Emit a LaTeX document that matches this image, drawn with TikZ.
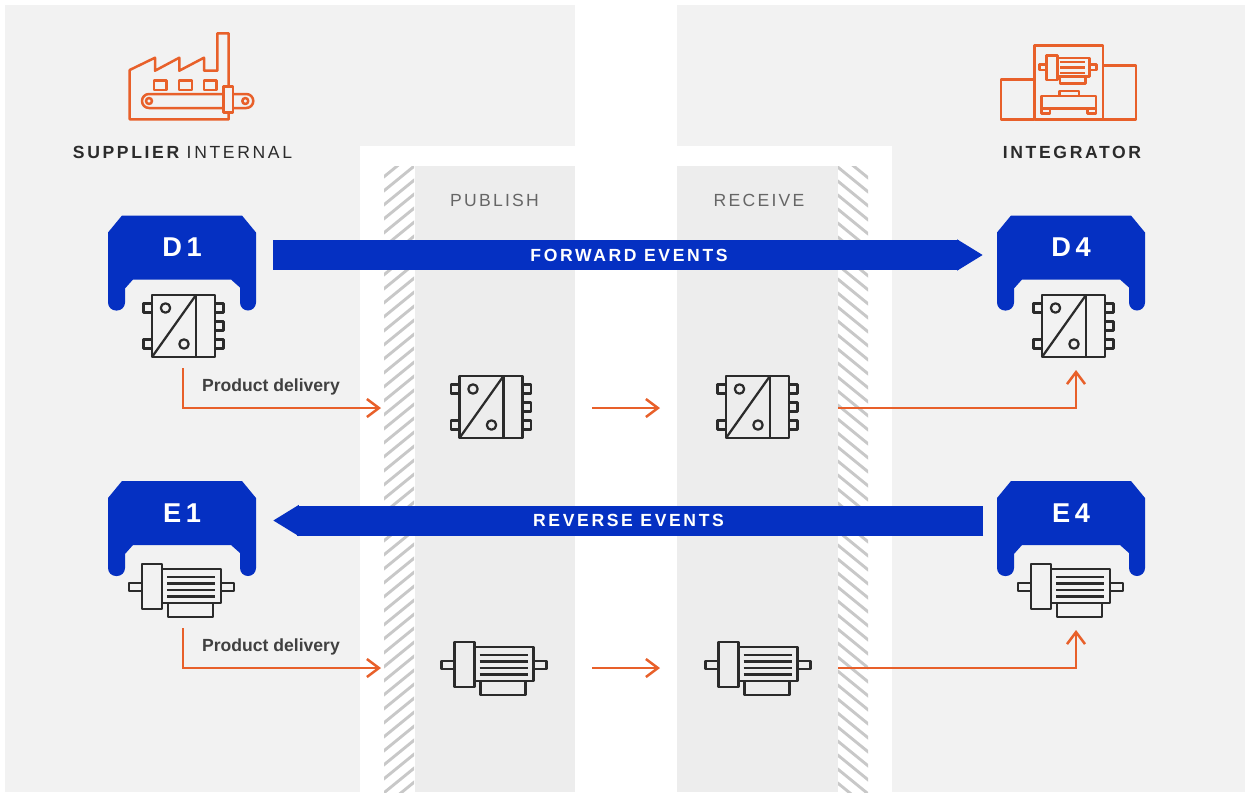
\documentclass[tikz,border=0pt]{standalone}
\usepackage{fontspec}
\setmainfont{Liberation Sans}
\newfontfamily\wideA[LetterSpace=15]{Liberation Sans}
\newfontfamily\wideB[LetterSpace=13]{Liberation Sans}
\usetikzlibrary{arrows.meta}
\definecolor{panelgray}{HTML}{F2F2F2}
\definecolor{innergray}{HTML}{EDEDED}
\definecolor{hatchgray}{HTML}{C8C8C8}
\definecolor{gwblue}{HTML}{0530C2}
\definecolor{deliveryorange}{HTML}{E8602A}
\definecolor{inkdark}{HTML}{2B2B2B}
\tikzset{
  icon/.style={draw=inkdark, line width=0.045cm, line join=round},
  oicon/.style={draw=deliveryorange, line width=0.05cm, line join=round},
  hatch/.style={hatchgray, line width=0.058cm},
  delivery/.style={draw=deliveryorange, line width=0.05cm, -{Straight Barb[length=0.24cm,width=0.36cm]}},
  eventarrow/.style={draw=gwblue, line width=0.6cm, -{Triangle[length=0.52cm,width=0.59cm]}},
  eventtext/.style={text=white, font=\wideA\bfseries\fontsize{10}{12}\selectfont},
  headbold/.style={text=inkdark, font=\wideA\bfseries\fontsize{10}{12}\selectfont},
  headsoft/.style={text=black!60, font=\wideB\fontsize{10}{12}\selectfont},
  deliverytext/.style={text=black!75, font=\bfseries\fontsize{10}{12}\selectfont},
  gateway/.pic={
    \fill[gwblue] (-74,17) -- (-60,0) -- (60,0) -- (74,17)
      {[rounded corners=0.16cm] -- (74,95) -- (58,95)} -- (58,72) -- (49,64) -- (-49,64) -- (-57,73)
      {[rounded corners=0.16cm] -- (-57,95) -- (-74,95)} -- cycle;
    \node[text=white, font=\bfseries\fontsize{15.5}{17}\selectfont] (-label) at (0,32) {#1};
  },
  relay/.pic={
    \draw[icon] (-31.5,-31) rectangle (31.5,31);
    \draw[icon] (12.5,-31) -- (12.5,31);
    \draw[icon] (-31.5,31) -- (12.5,-31);
    \draw[icon] (-18,-18) circle (4.7);
    \draw[icon] (0.5,18) circle (4.7);
    \draw[icon] (-40,-22.5) rectangle (-31.5,-13.5);
    \draw[icon] (-40,13.5) rectangle (-31.5,22.5);
    \draw[icon] (31.5,-22.5) rectangle (40,-13.5);
    \draw[icon] (31.5,-4.5) rectangle (40,4.5);
    \draw[icon] (31.5,13.5) rectangle (40,22.5);
  },
  motor/.pic={
    \draw[icon] (-39.5,-23) rectangle (-19.5,22);
    \draw[icon] (-19.5,-18) rectangle (39.5,16);
    \draw[icon] (-13.5,16) rectangle (31.5,30);
    \draw[icon] (-52.5,-4) rectangle (-39.5,4);
    \draw[icon] (39.5,-4) rectangle (52.5,4);
    \draw[icon] (-14.5,-10) -- (33.5,-10);
    \draw[icon] (-14.5,-3.5) -- (33.5,-3.5);
    \draw[icon] (-14.5,3) -- (33.5,3);
    \draw[icon] (-14.5,9.5) -- (33.5,9.5);
  }
}
\begin{document}
\begin{tikzpicture}[x=0.02cm, y=-0.02cm]
\useasboundingbox (0,0) rectangle (1245,792);

% panels
\fill[panelgray] (5,5) rectangle (575,792);
\fill[panelgray] (677,5) rectangle (1245,792);
\fill[white] (360,146) rectangle (575,792);
\fill[white] (677,146) rectangle (892,792);
\fill[innergray] (415,166) rectangle (575,792);
\fill[innergray] (677,166) rectangle (838,792);

% hatched bands
\begin{scope}
  \clip (384,166) rectangle (414,792);
  \foreach \yy in {166,180,...,838} {\draw[hatch] (380,\yy) -- (418,\yy-31);}
\end{scope}
\begin{scope}
  \clip (838,166) rectangle (868,792);
  \foreach \yy in {136,150,...,808} {\draw[hatch] (834,\yy) -- (872,\yy+31);}
\end{scope}

% factory
\draw[oicon] (228.7,86.7) -- (228.7,33.3) -- (217.3,33.3) -- (217.3,70.7) -- (204,70.7) -- (204,57.7) -- (179.3,70.7) -- (179.3,57.7) -- (155,70.7) -- (155,57.7) -- (129.7,70) -- (129.7,119.3) -- (228.7,119.3) -- (228.7,112.3);
\draw[oicon] (154,80.7) rectangle (166.7,90);
\draw[oicon] (179,80.7) rectangle (192,90);
\draw[oicon] (204,80.7) rectangle (216.7,90);
\draw[oicon, rounded corners=0.14cm] (223.7,94) -- (142,94) -- (142,108) -- (223.7,108);
\draw[oicon, rounded corners=0.14cm] (233,94) -- (253.3,94) -- (253.3,108) -- (233,108);
\draw[oicon] (223.7,86.7) rectangle (233,112.3);
\draw[oicon] (149,101) circle (3);
\draw[oicon] (245.3,101) circle (3);

% integrator machine
\draw[oicon] (1034.3,45.3) rectangle (1103,119.3);
\draw[oicon] (1034.3,79.3) -- (1001,79.3) -- (1001,119.3) -- (1034.3,119.3);
\draw[oicon] (1103,65.3) -- (1136,65.3) -- (1136,119.3) -- (1103,119.3);
\draw[oicon] (1046.3,55.3) rectangle (1057.7,80);
\draw[oicon] (1057.7,58) rectangle (1089.3,76.7);
\draw[oicon] (1060,76.7) rectangle (1085.3,83.7);
\draw[oicon] (1039.3,64.7) rectangle (1046.3,70);
\draw[oicon] (1089.3,64.7) rectangle (1096.3,70);
\draw[oicon] (1060,62) -- (1085.3,62);
\draw[oicon] (1060,67.5) -- (1085.3,67.5);
\draw[oicon] (1060,73) -- (1085.3,73);
\draw[oicon] (1041.7,96) rectangle (1096,108.7);
\draw[oicon] (1059.3,91) rectangle (1079,96);
\draw[oicon] (1041.7,108.7) rectangle (1050,113.3);
\draw[oicon] (1087.7,108.7) rectangle (1096,113.3);

% headings
\node[headbold] (supplierhead) at (182.5,152) {SUPPLIER \wideA\mdseries INTERNAL};
\node[headbold] (integratorhead) at (1072,152) {INTEGRATOR};
\node[headsoft] (publishhead) at (494.5,200) {PUBLISH};
\node[headsoft] (receivehead) at (759,200) {RECEIVE};

% gateways
\pic (gwDone) at (182,215.5) {gateway={D\,1}};
\pic (gwDfour) at (1071,215.5) {gateway={D\,4}};
\pic (gwEone) at (182,481) {gateway={E\,1}};
\pic (gwEfour) at (1071,481) {gateway={E\,4}};

% event arrows
\coordinate (fwdstart) at (273,255);
\coordinate (fwdend) at (983,255);
\coordinate (revstart) at (983,520.5);
\coordinate (revend) at (273,520.5);
\draw[eventarrow] (fwdstart) -- (fwdend);
\draw[eventarrow] (revstart) -- (revend);
\node[eventtext] (fwdlabel) at (629,255) {FORWARD EVENTS};
\node[eventtext] (revlabel) at (628.5,520.5) {REVERSE EVENTS};

% devices
\pic at (183.5,326) {relay};
\pic at (491,407) {relay};
\pic at (757.5,407) {relay};
\pic at (1073.5,326) {relay};
\pic at (181.5,587) {motor};
\pic at (494,665) {motor};
\pic at (758,665) {motor};
\pic at (1070.5,587) {motor};

% deliveries
\coordinate (dfrom) at (183,368);
\coordinate (dcorner) at (183,408);
\coordinate (dwall) at (381,408);
\coordinate (dpubout) at (592,408);
\coordinate (drecin) at (660,408);
\coordinate (drecout) at (838,408);
\coordinate (dbend) at (1076,408);
\coordinate (dinto) at (1076,370);
\draw[delivery] (dfrom) -- (dcorner) -- (dwall);
\draw[delivery] (dpubout) -- (drecin);
\draw[delivery] (drecout) -- (dbend) -- (dinto);
\node[deliverytext] (dlabel) at (271,386.5) {Product delivery};

\coordinate (efrom) at (183,628);
\coordinate (ecorner) at (183,668);
\coordinate (ewall) at (381,668);
\coordinate (epubout) at (592,668);
\coordinate (erecin) at (660,668);
\coordinate (erecout) at (838,668);
\coordinate (ebend) at (1076,668);
\coordinate (einto) at (1076,630);
\draw[delivery] (efrom) -- (ecorner) -- (ewall);
\draw[delivery] (epubout) -- (erecin);
\draw[delivery] (erecout) -- (ebend) -- (einto);
\node[deliverytext] (elabel) at (271,646.5) {Product delivery};

\end{tikzpicture}
\end{document}
